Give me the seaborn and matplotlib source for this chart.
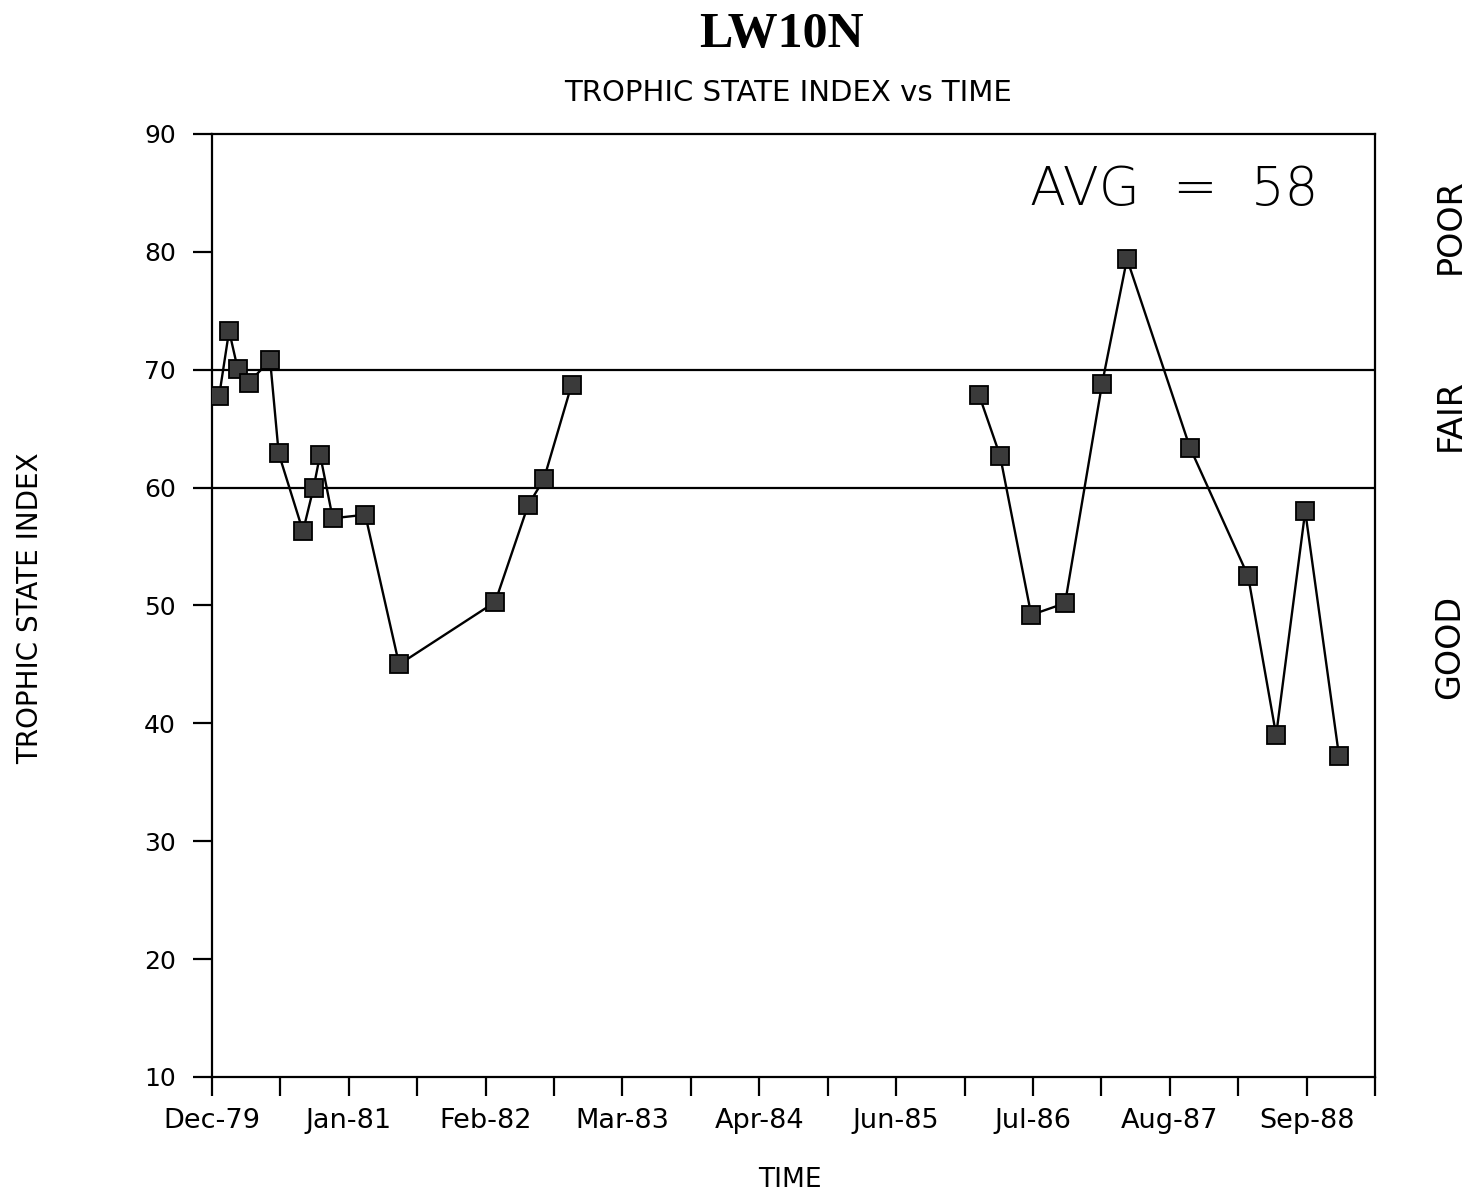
import numpy as np
import pandas as pd
import matplotlib
matplotlib.use("Agg")
import matplotlib.pyplot as plt
import seaborn as sns

# ---- data ----
dates = ["1980-01-01", "1980-01-30", "1980-02-24", "1980-03-27", "1980-05-29",
         "1980-06-23", "1980-09-02", "1980-10-03", "1980-10-22", "1980-11-28",
         "1981-03-03", "1981-06-10", "1982-03-18", "1982-06-22", "1982-08-07",
         "1982-10-27",
         "1986-01-30", "1986-04-02", "1986-07-02", "1986-10-09", "1987-01-25",
         "1987-04-08", "1987-10-09", "1988-03-27", "1988-06-17", "1988-09-10",
         "1988-12-18"]
tsi = [67.8, 73.3, 70.1, 68.9, 70.8, 62.9, 56.3, 60.0, 62.8, 57.4,
       57.7, 45.0, 50.3, 58.5, 60.7, 68.7,
       67.9, 62.7, 49.2, 50.2, 68.8, 79.4, 63.4, 52.5, 39.0, 58.0, 37.2]
segment = [1] * 16 + [2] * 11
thresholds = [60, 70]
class_labels = ["GOOD", "FAIR", "POOR"]
avg_text = "AVG  =  58"
y_ticks = [10, 20, 30, 40, 50, 60, 70, 80, 90]
axis_start = "1979-12-11"
tick_step_days = 200
n_tick_steps = 17

df = pd.DataFrame({"date": pd.to_datetime(dates), "tsi": tsi, "segment": segment})

sns.set_style("ticks")
plt.rcParams["font.family"] = ["DejaVu Sans"]
plt.rcParams["text.color"] = "black"

fig = plt.figure(figsize=(14.71, 11.95), dpi=100)
ax = fig.add_axes([212 / 1471, 1 - 1077 / 1195, (1375 - 212) / 1471, (1077 - 134) / 1195])

for t in thresholds:
    ax.axhline(t, color="black", lw=1.6, zorder=1)

sns.lineplot(data=df, x="date", y="tsi", units="segment", estimator=None,
             color="black", lw=1.7, marker="s", markersize=12.5,
             markerfacecolor="#3a3a3a", markeredgecolor="black",
             markeredgewidth=1.3, ax=ax, legend=False, zorder=3)

start = pd.Timestamp(axis_start)
tick_dates = [start + pd.Timedelta(days=tick_step_days * k) for k in range(n_tick_steps + 1)]
tick_labels = [d.strftime("%b-%y") if k % 2 == 0 and k < n_tick_steps else ""
               for k, d in enumerate(tick_dates)]
ax.set_xlim(tick_dates[0], tick_dates[-1])
ax.set_xticks(tick_dates)
ax.set_xticklabels(tick_labels)
ax.set_ylim(10, 90)
ax.set_yticks(y_ticks)
ax.set_xlabel("")
ax.set_ylabel("")

for s in ax.spines.values():
    s.set_linewidth(1.6)
    s.set_color("black")
ax.tick_params(axis="both", direction="out", length=14, width=1.6, colors="black")
ax.tick_params(axis="y", pad=12, labelsize=18)
ax.tick_params(axis="x", pad=8, labelsize=19.5)

fig.text(0.531, 0.9707, "LW10N", ha="center", va="center", color="black",
         family=["Liberation Serif", "DejaVu Serif"], weight="bold", fontsize=36)
fig.text(0.536, 0.922, "TROPHIC STATE INDEX vs TIME", ha="center", va="center",
         fontsize=21, color="black")
fig.text(0.0204, 0.4912, "TROPHIC STATE INDEX", ha="center", va="center",
         rotation=90, fontsize=20, color="black")
fig.text(0.537, 0.0126, "TIME", ha="center", va="center", fontsize=19, color="black")
for lab, yc in zip(class_labels, [647, 415, 226]):
    fig.text(0.9857, 1 - yc / 1195, lab, ha="center", va="center", rotation=90,
             fontsize=24, color="black")
fig.text(0.798, 0.841, avg_text, ha="center", va="center", fontsize=38,
         weight="light", color="black")

fig.savefig("out.png", dpi=100)
